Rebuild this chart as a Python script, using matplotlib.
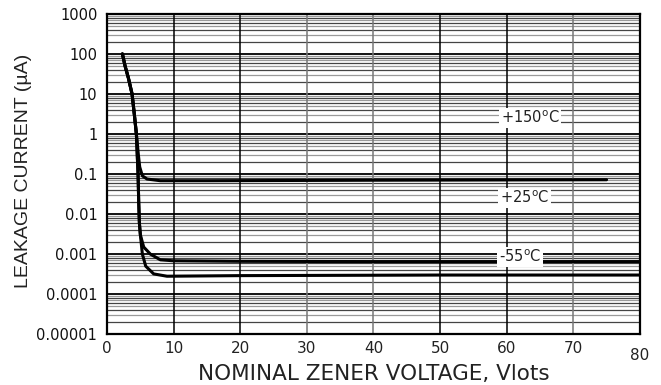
import matplotlib
matplotlib.use('Agg')
import matplotlib.pyplot as plt
import numpy as np

plt.rcParams['font.family'] = ['DejaVu Sans']

# curve data (volts, uA)
v_drop = [2.3, 2.7, 3.2, 3.75, 4.1, 4.4]
i_drop = [100, 50, 25, 10, 3, 1]

v_150 = v_drop + [4.7, 4.9, 5.3, 6.0, 8.0, 15, 40, 75]
i_150 = i_drop + [0.3, 0.15, 0.09, 0.075, 0.068, 0.068, 0.07, 0.072]

v_25 = v_drop + [4.65, 4.75, 4.85, 5.0, 5.5, 6.5, 8.0, 10, 20, 40, 80]
i_25 = i_drop + [0.1, 0.02, 0.006, 0.003, 0.0015, 0.001, 0.00072, 0.00068, 0.00066, 0.00065, 0.00065]

v_m55 = v_drop + [4.65, 4.75, 4.85, 5.0, 5.3, 5.8, 7.0, 9.0, 20, 50, 80]
i_m55 = i_drop + [0.1, 0.02, 0.006, 0.003, 0.001, 0.0005, 0.00032, 0.00028, 0.00029, 0.0003, 0.0003]

labels = ['+150$^{\\rm o}$C', '+25$^{\\rm o}$C', '-55$^{\\rm o}$C']
label_pos = [(63.5, 2.5), (62.7, 0.025), (62.0, 0.00084)]

x_ticks = [0, 10, 20, 30, 40, 50, 60, 70, 80]
y_ticks = [1e-5, 1e-4, 1e-3, 1e-2, 1e-1, 1, 10, 100, 1000]
y_ticklabels = ['0.00001', '0.0001', '0.001', '0.01', '0.1', '1', '10', '100', '1000']

fig = plt.figure(figsize=(6.61, 3.85), dpi=100)
ax = fig.add_axes([0.162, 0.132, 0.806, 0.832])
ax.set_yscale('log')
ax.set_xlim(0, 80)
ax.set_ylim(1e-5, 1000)

# horizontal grid: decades black, in-between lines gray
for d in range(-5, 3):
    for m in range(2, 10):
        ax.axhline(m * 10.0 ** d, color='#9a9a9a' if m % 2 else '#444444', lw=0.9, zorder=1)
for y in y_ticks:
    ax.axhline(y, color='black', lw=1.3, zorder=1)
# vertical grid
for x in x_ticks[1:-1]:
    c = '#777777' if x in (30, 40, 70) else 'black'
    ax.axvline(x, color=c, lw=1.1, zorder=1)

for v, i in [(v_150, i_150), (v_25, i_25), (v_m55, i_m55)]:
    ax.plot(v, i, color='black', lw=2.2, zorder=3, solid_capstyle='round', solid_joinstyle='round')

for txt, (x, y) in zip(labels, label_pos):
    ax.text(x, y, txt, ha='center', va='center', fontsize=10.5, color='#222222', zorder=4,
            bbox=dict(facecolor='white', edgecolor='none', pad=1.5))

for s in ax.spines.values():
    s.set_linewidth(1.6)
    s.set_zorder(5)

ax.set_xticks(x_ticks)
ax.set_xticklabels([str(x) for x in x_ticks], fontsize=11, color='#222222')
ax.get_xticklabels()[-1].set_y(-0.022)
ax.set_yticks(y_ticks)
ax.set_yticklabels(y_ticklabels, fontsize=10.5, color='#111111')
ax.yaxis.set_minor_locator(matplotlib.ticker.NullLocator())
ax.tick_params(axis='y', length=0, pad=7)
ax.tick_params(axis='x', length=0, pad=5)

ax.set_xlabel('NOMINAL ZENER VOLTAGE, Vlots', fontsize=15.5, color='#222222')
ax.xaxis.set_label_coords(0.5, -0.125)
ax.xaxis.label.set_va('center')
ax.set_ylabel('LEAKAGE CURRENT (\u00b5A)', fontsize=14, color='#222222', family='Liberation Sans')
ax.yaxis.set_label_coords(-0.156, 0.51)
ax.yaxis.label.set_va('center')

plt.savefig('out.png', dpi=100)
